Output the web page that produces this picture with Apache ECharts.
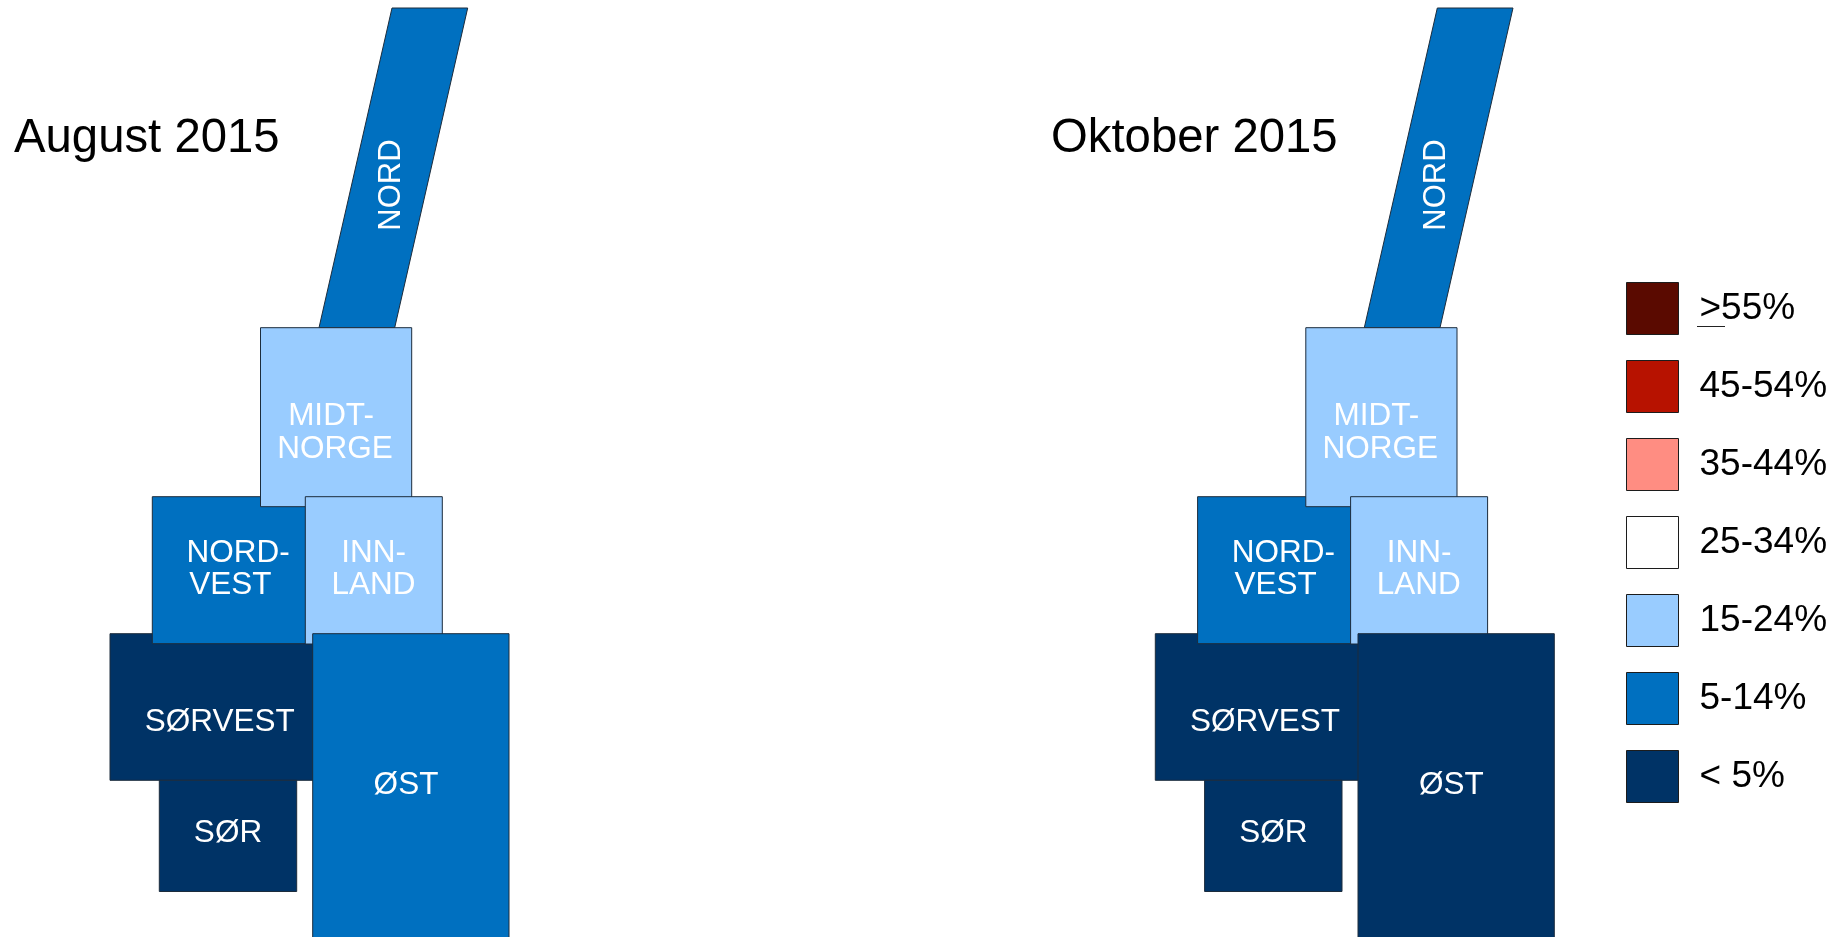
<!DOCTYPE html>
<html>
<head>
<meta charset="utf-8">
<title>August og Oktober 2015</title>
<style>html,body{margin:0;padding:0;background:#fff;overflow:hidden}#c{width:1845px;height:937px}</style>
<script src="https://cdn.jsdelivr.net/npm/echarts@6/dist/echarts.min.js"></script>
</head>
<body>
<div id="c"></div>
<script>
// ---- Data ----
const periods = ['August 2015', 'Oktober 2015'];
const regions = ['NORD', 'SØRVEST', 'NORDVEST', 'MIDT-NORGE', 'INNLAND', 'SØR', 'ØST'];
const classLabels = ['>55%', '45-54%', '35-44%', '25-34%', '15-24%', '5-14%', '< 5%'];
const august  = ['5-14%', '< 5%', '5-14%', '15-24%', '15-24%', '< 5%', '5-14%'];
const oktober = ['5-14%', '< 5%', '5-14%', '15-24%', '15-24%', '< 5%', '< 5%'];

// ---- Styling and schematic map geometry (map units, drawn through the hidden axes) ----
const classColors = ['#5A0A00', '#B71200', '#FF8D82', '#FFFFFF', '#99CCFF', '#0070C0', '#003366'];
const panelOffset = [0, 1045.3];
const FONT = '"Liberation Sans", Arial, sans-serif';
const regionShapes = {
  'NORD':       { poly: [[392,8],[467.7,8],[394.7,327.7],[319,327.7]], lines: [['NORD',391.5,185,true]] },
  'SØRVEST':    { poly: [[110,633.7],[320,633.7],[320,780.3],[110,780.3]], lines: [['SØRVEST',219.7,722.5]] },
  'NORDVEST':   { poly: [[152.3,496.7],[310,496.7],[310,643.7],[152.3,643.7]], lines: [['NORD-',238,553.7],['VEST',230.3,585.7]] },
  'MIDT-NORGE': { poly: [[260.5,327.7],[411.7,327.7],[411.7,506.7],[260.5,506.7]], lines: [['MIDT-',331,416.5],['NORGE',335,449]] },
  'INNLAND':    { poly: [[305.3,496.7],[442.3,496.7],[442.3,644],[305.3,644]], lines: [['INN-',373.7,553.7],['LAND',373.5,585.7]] },
  'SØR':        { poly: [[159.3,780.3],[296.7,780.3],[296.7,891.5],[159.3,891.5]], lines: [['SØR',228,833.5]] },
  'ØST':        { poly: [[312.7,633.7],[509,633.7],[509,960],[312.7,960]], lines: [['ØST',406,785]] }
};

const panelValues = [august, oktober];

function renderRegion(params, api) {
  const r = api.value(0), p = api.value(1);
  const shape = regionShapes[regions[r]];
  const dx = panelOffset[p];
  const children = [{
    type: 'polygon',
    z2: 10 + r,
    shape: { points: shape.poly.map(q => api.coord([q[0] + dx, q[1]])) },
    style: { fill: api.visual('color'), stroke: '#1c2c3c', lineWidth: 1 }
  }];
  shape.lines.forEach(l => {
    const pt = api.coord([l[1] + dx, l[2]]);
    children.push({
      type: 'text',
      z2: 30 + r,
      x: pt[0], y: pt[1],
      rotation: l[3] ? Math.PI / 2 : 0,
      style: { text: l[0], x: 0, y: 0, fill: '#fff', font: (l[3] ? '31px ' : '31.5px ') + FONT, align: 'center', verticalAlign: 'middle' }
    });
  });
  return { type: 'group', children };
}

const series = classLabels.map((label, c) => {
  const data = [];
  panelValues.forEach((vals, p) => vals.forEach((v, r) => { if (v === label) data.push([r, p]); }));
  return {
    type: 'custom', name: label, coordinateSystem: 'cartesian2d',
    renderItem: renderRegion, clip: false, silent: true,
    itemStyle: { color: classColors[c] },
    encode: { x: [], y: [] },
    data
  };
});

const chart = echarts.init(document.getElementById('c'), null, { renderer: 'canvas' });
chart.setOption({
  animation: false,
  backgroundColor: '#fff',
  title: periods.map((t, i) => ({
    text: t, left: [14, 1051][i], top: 115,
    padding: 0,
    textStyle: { fontFamily: FONT, fontSize: 47.3, fontWeight: 'normal', color: '#000' }
  })),
  grid: { left: 0, right: 0, top: 0, bottom: 0 },
  xAxis: { type: 'value', min: 0, max: 1845, show: false },
  yAxis: { type: 'value', min: 0, max: 937, inverse: true, show: false },
  legend: {
    data: classLabels,
    orient: 'vertical', left: 1626, top: 282, padding: 0,
    icon: 'rect', itemWidth: 52, itemHeight: 52, itemGap: 25,
    selectedMode: false,
    itemStyle: { borderColor: '#1c1c1c', borderWidth: 1 },
    textStyle: { fontFamily: FONT, fontSize: 37, color: '#000', padding: [0, 0, 6, 16] }
  },
  graphic: [{
    type: 'line', silent: true,
    shape: { x1: 1697, y1: 326.5, x2: 1725, y2: 326.5 },
    style: { stroke: '#222', lineWidth: 1 }
  }],
  series
});
</script>
</body>
</html>
